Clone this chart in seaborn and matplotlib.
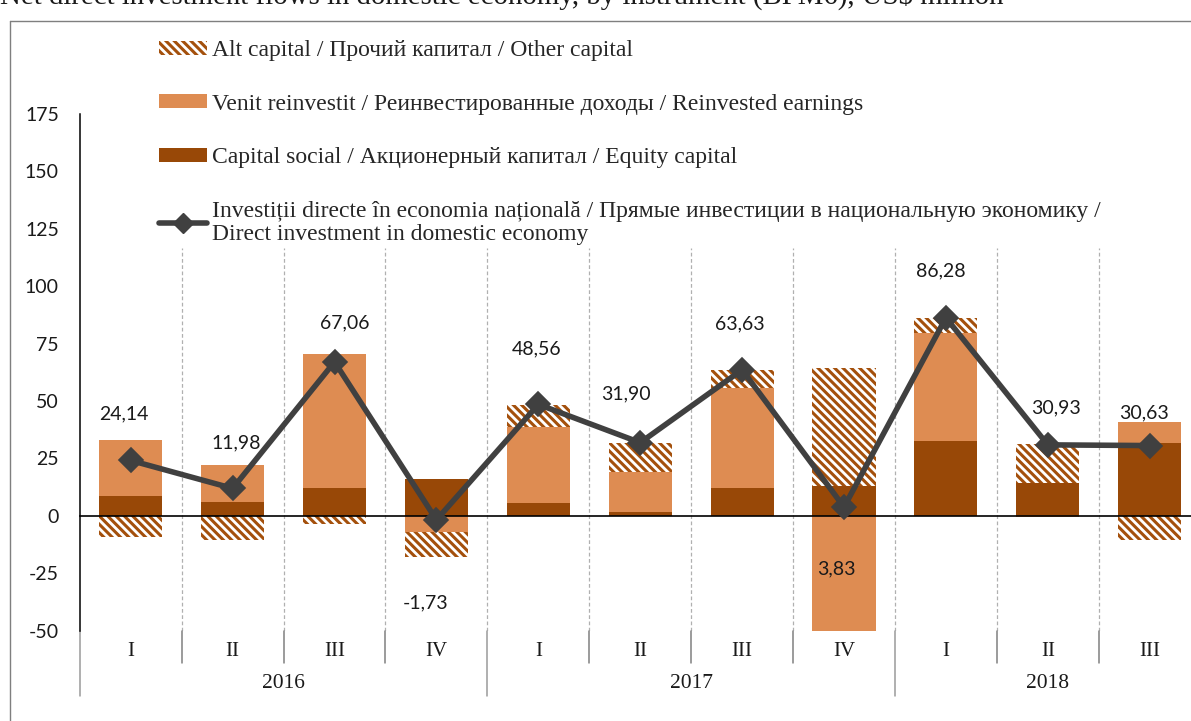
import numpy as np
import pandas as pd
import matplotlib
matplotlib.use('Agg')
import matplotlib.pyplot as plt
from matplotlib.lines import Line2D
from matplotlib.patches import Patch
import seaborn as sns

# ---------------------------------------------------------------
# data (US$ million)
# ---------------------------------------------------------------
quarters = ['I', 'II', 'III', 'IV', 'I', 'II', 'III', 'IV', 'I', 'II', 'III']
quarter_year = ['2016'] * 4 + ['2017'] * 4 + ['2018'] * 3
years = ['2016', '2017', '2018']
equity = [8.5, 6.2, 12.3, 16.0, 5.4, 1.9, 12.0, 13.2, 32.4, 14.2, 31.7]
reinvested = [24.6, 16.1, 58.4, -7.2, 33.2, 17.0, 43.9, -51.5, 47.4, -0.6, 9.4]
other = [-9.2, -10.4, -3.6, -10.5, 9.9, 12.9, 7.7, 51.2, 6.4, 17.3, -10.5]
direct_inv = [24.14, 11.98, 67.06, -1.73, 48.56, 31.90, 63.63, 3.83, 86.28, 30.93, 30.63]
# where each value label sits relative to its marker (pixels)
label_offsets = [(-7, 47), (4, 46), (10, 39), (-11, -83), (-2, 56), (-14, 49),
                 (-2, 46), (-8, -62), (-5, 47), (8, 37), (-6, 33)]

lbl_other = 'Alt capital / Прочий капитал / Other capital'
lbl_reinv = 'Venit reinvestit / Реинвестированные доходы / Reinvested earnings'
lbl_equity = 'Capital social / Акционерный капитал / Equity capital'
lbl_line = ('Investiții directe în economia națională / Прямые инвестиции в национальную экономику /\n'
            'Direct investment in domestic economy')

C_EQUITY = '#984807'
C_REINV = '#DE8C52'
C_HATCH = '#A4500C'
C_LINE = '#404040'
SERIF = ['Liberation Serif', 'DejaVu Serif']
SANS = ['Lato', 'DejaVu Sans']
HATCH = '\\\\\\\\'

sns.set_style('white')
plt.rcParams['font.family'] = SANS
plt.rcParams['axes.unicode_minus'] = False
plt.rcParams['hatch.linewidth'] = 2.2
plt.rcParams['hatch.color'] = C_HATCH

df = pd.DataFrame({
    'period': [f'{y} {q}' for y, q in zip(quarter_year, quarters)],
    'equity': equity, 'reinvested': reinvested, 'other': other,
})
n = len(df)
x = np.arange(n)

# positive parts stack upwards, negative parts stack downwards
pos_base = np.zeros(n)
neg_base = np.zeros(n)
bottoms = {}
for col in ['equity', 'reinvested', 'other']:
    v = df[col].to_numpy()
    bottoms[col] = np.where(v >= 0, pos_base, neg_base)
    pos_base = pos_base + np.clip(v, 0, None)
    neg_base = neg_base + np.clip(v, None, 0)

fig = plt.figure(figsize=(11.91, 7.21), dpi=100)
ax = fig.add_axes([0.0670, 0.1252, 0.9411, 0.7167])

bw = 0.62
sns.barplot(data=df, x='period', y='equity', order=df['period'], color=C_EQUITY,
            saturation=1, width=bw, errorbar=None, bottom=bottoms['equity'],
            linewidth=0, ax=ax, zorder=2)
sns.barplot(data=df, x='period', y='reinvested', order=df['period'], color=C_REINV,
            saturation=1, width=bw, errorbar=None, bottom=bottoms['reinvested'],
            linewidth=0, ax=ax, zorder=2)
sns.barplot(data=df, x='period', y='other', order=df['period'], color='white',
            saturation=1, facecolor='white', edgecolor=C_HATCH, hatch=HATCH, width=bw,
            errorbar=None, bottom=bottoms['other'], linewidth=0, ax=ax, zorder=2)

sns.lineplot(x=x, y=direct_inv, color=C_LINE, lw=4, marker='D', markersize=12,
             markeredgecolor=C_LINE, markeredgewidth=1.2, solid_joinstyle='round',
             ax=ax, zorder=4)

for i, v in enumerate(direct_inv):
    dx, dy = label_offsets[i]
    ax.annotate(f'{v:.2f}'.replace('.', ','), (i, v), xytext=(dx, dy),
                textcoords='offset pixels', ha='center', va='center',
                fontsize=14, color='#1a1a1a', zorder=5)

# axes styling
ax.set_xlim(-0.5, n - 0.5)
ax.set_ylim(-50, 175)
ax.set_yticks(np.arange(-50, 176, 25))
ax.set_xlabel('')
ax.set_ylabel('')
for s in ['top', 'right']:
    ax.spines[s].set_visible(False)
ax.spines['left'].set_color('black')
ax.spines['left'].set_linewidth(1.1)
ax.spines['bottom'].set_position(('data', 0))
ax.spines['bottom'].set_color('black')
ax.spines['bottom'].set_linewidth(1.2)
ax.spines['bottom'].set_zorder(3)

bounds = np.arange(-0.5, n, 1.0)
ax.set_xticks(bounds)
ax.set_xticklabels([])
ax.tick_params(axis='x', direction='out', length=6, width=1, color='#808080')
ax.tick_params(axis='y', direction='out', length=5, width=1, color='#808080',
               pad=10, labelsize=14, labelcolor='#1a1a1a')

# dashed separators between quarters
ax.vlines(bounds[1:], -50, 116.7, colors='#b0b0b0', linestyles=(0, (3, 2)), lw=0.9, zorder=1)

# two-level category axis below the plot
trans = ax.get_xaxis_transform()
for b in bounds:
    is_year = b in (-0.5, 3.5, 7.5)
    ax.plot([b, b], [0, -0.1264 if is_year else -0.0631], transform=trans,
            color='#808080' if not is_year else '#9a9a9a', lw=1.1, clip_on=False)
for i, q in enumerate(quarters):
    ax.text(i, -0.0406, q, transform=trans, ha='center', va='center',
            fontsize=15, family=SERIF, color='#1a1a1a')
for yr in years:
    idx = [i for i, y in enumerate(quarter_year) if y == yr]
    ax.text(np.mean(idx), -0.103, yr, transform=trans, ha='center', va='center',
            fontsize=15.5, family=SERIF, color='#1a1a1a')

# legend
handles = [
    Patch(facecolor='white', edgecolor=C_HATCH, hatch=HATCH, lw=0),
    Patch(facecolor=C_REINV, lw=0),
    Patch(facecolor=C_EQUITY, lw=0),
    Line2D([0], [0], color=C_LINE, lw=4, marker='D', markersize=10),
]
leg = fig.legend(handles, [lbl_other, lbl_reinv, lbl_equity, lbl_line],
                 loc='upper left', bbox_to_anchor=(159 / 1191, 1 - 40 / 721),
                 frameon=False, prop={'family': SERIF, 'size': 17}, handlelength=2.03,
                 handleheight=0.55, handletextpad=0.22, labelspacing=1.38, borderpad=0,
                 borderaxespad=0)
for t in leg.get_texts():
    t.set_linespacing(1.12)

# chart title, partly cut off at the top of the image
fig.text(0.0, 1 - 4 / 721,
         'Net direct investment flows in domestic economy, by instrument (BPM6), US$ million',
         ha='left', va='baseline', fontsize=20.8, family=SERIF, color='#1a1a1a')

# frame around the chart
fig.add_artist(Line2D([10 / 1191, 1], [1 - 21 / 721, 1 - 21 / 721],
                      transform=fig.transFigure, color='#7f7f7f', lw=1))
fig.add_artist(Line2D([10 / 1191, 10 / 1191], [0, 1 - 21 / 721],
                      transform=fig.transFigure, color='#7f7f7f', lw=1))

fig.savefig('out.png', dpi=100)
